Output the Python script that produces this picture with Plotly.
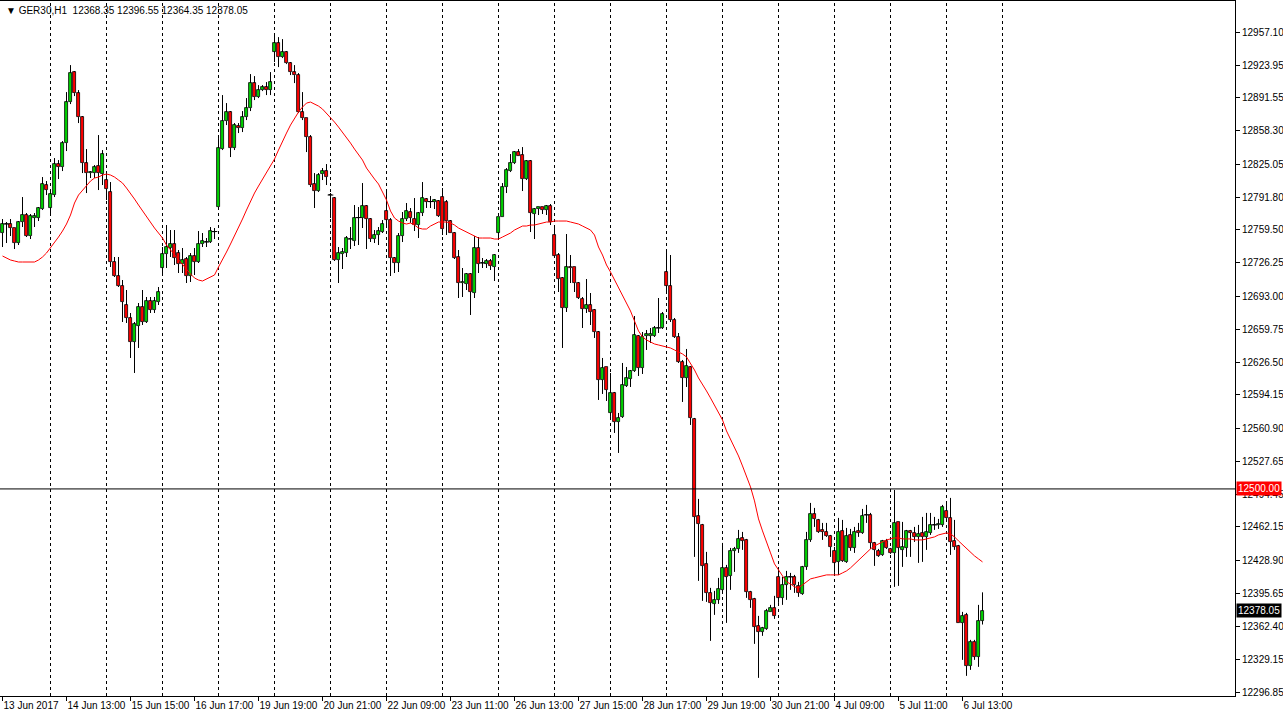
import plotly.graph_objects as go

opens = [12756,12765,12765,12761,12746,12767,12774,12753,12771,12771,12780,12804,12781,12794,12825,12822,12846,12887,12917,12896,
12872,12826,12816,12816,12823,12815,12809,12797,12727,12713,12703,12684,12671,12647,12663,12682,12667,12688,12679,12687,
12721,12735,12741,12745,12736,12725,12730,12713,12733,12727,12745,12747,12747,12757,12782,12840,12868,12877,12841,12863,
12861,12872,12881,12906,12892,12899,12902,12899,12937,12946,12932,12937,12926,12917,12914,12877,12871,12852,12805,12798,
12815,12818,12794,12791,12729,12735,12736,12750,12748,12771,12771,12783,12770,12750,12754,12757,12778,12769,12731,12726,
12753,12770,12777,12770,12764,12776,12790,12787,12787,12788,12792,12787,12768,12756,12732,12706,12705,12715,12696,12741,
12726,12725,12728,12722,12756,12772,12802,12818,12826,12837,12834,12810,12828,12775,12780,12782,12779,12783,12754,12734,
12711,12681,12722,12722,12706,12690,12680,12684,12679,12657,12609,12622,12576,12596,12567,12572,12603,12610,12618,12653,
12621,12653,12653,12653,12661,12661,12717,12703,12669,12652,12627,12611,12622,12570,12473,12464,12425,12396,12385,12389,
12399,12421,12413,12438,12440,12451,12449,12397,12390,12363,12357,12360,12377,12381,12412,12391,12404,12412,12412,12403,
12395,12422,12449,12475,12469,12459,12457,12453,12438,12427,12458,12427,12454,12441,12458,12456,12474,12474,12446,12438,
12434,12448,12440,12436,12467,12439,12441,12458,12456,12452,12456,12452,12456,12464,12464,12464,12478,12471,12448,12443,
12366,12374,12323,12347,12332,12368.35]
highs = [12770,12767,12770,12761,12768,12792,12776,12775,12776,12782,12812,12808,12799,12831,12829,12848,12897,12924,12918,12899,
12873,12840,12818,12824,12854,12839,12815,12807,12732,12732,12709,12699,12676,12667,12686,12699,12692,12692,12692,12702,
12742,12764,12759,12759,12739,12741,12732,12736,12741,12758,12756,12751,12762,12761,12851,12894,12886,12878,12866,12866,
12878,12891,12915,12913,12904,12904,12907,12917,12954,12952,12950,12938,12927,12924,12916,12897,12871,12854,12816,12816,
12821,12825,12796,12792,12742,12741,12753,12762,12784,12782,12806,12784,12771,12759,12762,12769,12799,12771,12732,12756,
12777,12786,12781,12791,12777,12807,12791,12793,12790,12789,12801,12789,12769,12757,12739,12721,12716,12716,12753,12752,
12731,12730,12730,12735,12772,12806,12821,12835,12838,12840,12842,12829,12829,12781,12782,12782,12784,12785,12761,12736,
12712,12755,12734,12722,12707,12692,12710,12696,12680,12658,12631,12622,12616,12597,12576,12626,12622,12619,12673,12654,
12657,12659,12661,12663,12691,12677,12737,12734,12671,12656,12629,12640,12623,12571,12490,12465,12437,12401,12398,12411,
12446,12424,12441,12442,12459,12457,12450,12398,12391,12373,12362,12380,12384,12393,12419,12412,12418,12416,12414,12407,
12423,12457,12486,12481,12470,12466,12466,12454,12442,12471,12469,12461,12460,12462,12466,12480,12484,12476,12447,12440,
12449,12450,12441,12499,12467,12467,12459,12459,12462,12464,12472,12476,12476,12472,12470,12484,12486,12491,12469,12444,
12377,12376,12349,12349,12384,12396.55]
lows = [12742,12746,12753,12740,12744,12762,12752,12750,12762,12768,12779,12794,12776,12792,12810,12818,12838,12885,12893,12866,
12816,12796,12811,12811,12799,12804,12789,12722,12712,12702,12667,12666,12631,12616,12641,12664,12666,12676,12676,12684,
12716,12721,12732,12724,12716,12716,12706,12707,12714,12726,12742,12742,12746,12750,12781,12839,12864,12832,12839,12856,
12857,12869,12878,12889,12891,12898,12894,12894,12927,12922,12931,12925,12914,12906,12876,12869,12837,12802,12781,12797,
12809,12804,12771,12728,12706,12720,12732,12740,12743,12744,12761,12740,12747,12746,12744,12756,12764,12713,12716,12717,
12747,12768,12766,12758,12751,12773,12781,12781,12780,12772,12754,12754,12756,12730,12691,12692,12699,12674,12691,12716,
12721,12721,12719,12708,12752,12772,12796,12817,12825,12833,12798,12809,12757,12750,12774,12775,12774,12764,12731,12697,
12641,12677,12706,12697,12690,12661,12676,12664,12651,12589,12595,12588,12572,12556,12536,12571,12602,12602,12617,12613,
12615,12639,12646,12652,12656,12660,12697,12667,12651,12626,12587,12602,12564,12432,12408,12388,12387,12348,12374,12385,
12397,12366,12399,12417,12436,12439,12391,12381,12345,12311,12353,12359,12377,12370,12386,12384,12389,12399,12396,12392,
12394,12419,12447,12462,12456,12449,12452,12432,12416,12414,12427,12426,12438,12436,12452,12455,12466,12440,12423,12432,
12433,12440,12435,12402,12403,12422,12432,12432,12447,12426,12427,12439,12454,12459,12460,12462,12470,12434,12439,12366,
12329,12313,12319,12329,12322,12364.35]
closes = [12765,12765,12761,12746,12767,12774,12753,12773,12773,12781,12805,12799,12795,12825,12822,12846,12887,12916,12896,12872,
12826,12816,12817,12822,12816,12835,12800,12727,12713,12703,12687,12671,12647,12665,12682,12667,12688,12679,12688,12697,
12735,12742,12745,12731,12725,12729,12713,12733,12727,12745,12748,12747,12758,12757.5,12841,12868,12877,12841,12864,12861,
12872,12881,12906,12892,12899,12902,12899,12907,12946,12932,12937,12926,12917,12914,12877,12871,12852,12804,12798,12814,
12818,12812,12794,12729,12736,12737,12751,12750,12771,12771.5,12783,12770,12750,12754,12758,12765,12769,12731,12726,12753,
12770,12778,12771,12764,12776,12791,12787,12787.5,12789,12773,12760,12768,12756,12731,12706,12707,12715,12697,12741,12725,
12726,12728,12723,12734,12772,12802,12819,12826,12837,12833,12810,12828,12776,12780,12782,12779,12783,12767,12733,12710,
12681,12722,12721,12706,12691,12680,12684,12677,12657,12609,12621,12599,12596,12567,12571,12604,12611,12618,12654,12621,
12652,12655,12655,12661,12661,12675,12703,12669,12652,12627,12611,12623,12571,12472,12465,12423,12396,12386,12389,12400,
12421,12412,12438,12440,12450,12448,12397,12389,12362,12357,12361,12378,12381,12373,12391,12404,12412,12412,12404,12396,
12422,12449,12475,12470,12457,12457,12453,12442,12426,12457,12428,12453,12441,12457,12456,12473,12474,12446,12439,12433,
12448,12441,12436,12466,12441,12442,12458,12456,12452,12455,12452,12457,12464,12464,12465,12482,12471,12447,12442,12366,
12373,12323,12347,12332,12368,12378.05]
ma = [12733,12731,12729,12728,12727,12727,12727,12727,12727,12729,12732,12736,12741,12746,12752,12758,12765,12774,12786,12794,
12799,12804,12808,12811,12812,12814,12815,12814,12812,12809,12806,12801,12796,12790,12784,12778,12772,12767,12761,12756,
12751,12744,12739,12734,12729,12725,12719,12715,12711,12709,12708,12710,12712,12714,12722,12729,12737,12745,12753,12761,
12770,12779,12788,12796,12803,12810,12817,12823,12830,12839,12848,12856,12864,12871,12877,12882,12886,12887,12885,12883,
12880,12876,12872,12867,12862,12857,12852,12846,12840,12834,12829,12821,12815,12810,12805,12797,12789,12778,12771,12768,
12766,12765,12766,12764,12761,12760,12760,12763,12765,12767,12767,12767,12766,12764,12761,12759,12757,12755,12753,12751,
12751,12751,12751,12750,12750,12752,12754,12756,12759,12761,12763,12763,12764,12764,12765,12766,12767,12767,12768,12768,
12768,12768,12767,12766,12765,12763,12761,12759,12754,12742,12734,12724,12717,12709,12701,12693,12685,12678,12668,12658,
12652,12649,12647,12645,12644,12643,12642,12641,12639,12637,12635,12632,12626,12619,12611,12605,12598,12591,12584,12577,
12569,12558,12550,12542,12533,12523,12513,12502,12488,12470,12458,12446,12436,12425,12419,12413,12407,12405,12402,12401,
12404,12407,12410,12411,12412,12413,12414,12414,12414,12414,12416,12418,12421,12425,12428,12432,12436,12440,12443,12445,
12447,12449,12450,12451,12451,12450,12450,12450,12449,12449,12449,12450,12451,12452,12454,12455,12456,12455,12452,12448,
12444,12440,12437,12433,12430,12427]

time_labels = ["13 Jun 2017","14 Jun 13:00","15 Jun 15:00","16 Jun 17:00","19 Jun 19:00","20 Jun 21:00",
               "22 Jun 09:00","23 Jun 11:00","26 Jun 13:00","27 Jun 15:00","28 Jun 17:00","29 Jun 19:00",
               "30 Jun 21:00","4 Jul 09:00","5 Jul 11:00","6 Jul 13:00"]
price_ticks = [12957.10,12923.95,12891.55,12858.30,12825.05,12791.80,12759.50,12726.25,12693.00,12659.75,
               12626.50,12594.15,12560.90,12527.65,12494.45,12462.15,12428.90,12395.65,12362.40,12329.15,12296.85]
level_line = 12500.00
symbol = "GER30,H1"

BULL = "#00D200"
BEAR = "#FF0000"

n = len(closes)
idx = list(range(n))
label_pos = [i * 16 for i in range(len(time_labels))]
day_seps = list(range(12, 260, 14))

body_top = [max(o, c) for o, c in zip(opens, closes)]
body_bot = [min(o, c) for o, c in zip(opens, closes)]
body_len = [t - b for t, b in zip(body_top, body_bot)]
body_col = [BULL if c >= o else BEAR for o, c in zip(opens, closes)]

# wicks: upper (high -> body top) and lower (body bottom -> low), so they never cross the body
wx, wy = [], []
for i in idx:
    wx += [i, i, None, i, i, None]
    wy += [highs[i], body_top[i], None, body_bot[i], lows[i], None]

doji_x = [i for i in idx if body_len[i] < 1.0]
doji_y = [closes[i] for i in doji_x]

fig = go.Figure()
fig.add_trace(go.Bar(x=idx, y=body_len, base=body_bot, width=0.75,
                     marker=dict(color=body_col, line=dict(color="black", width=0.8)),
                     showlegend=False, hoverinfo="skip"))
fig.add_trace(go.Scatter(x=wx, y=wy, mode="lines", line=dict(color="black", width=1),
                         showlegend=False, hoverinfo="skip"))
fig.add_trace(go.Scatter(x=doji_x, y=doji_y, mode="markers",
                         marker=dict(symbol="line-ew", size=4, line=dict(color="black", width=1)),
                         showlegend=False, hoverinfo="skip"))
fig.add_trace(go.Scatter(x=idx, y=ma, mode="lines", line=dict(color="#FF0000", width=1),
                         showlegend=False, hoverinfo="skip"))

for d in day_seps:
    fig.add_shape(type="line", xref="x", yref="paper", x0=d, x1=d, y0=0, y1=1,
                  line=dict(color="black", width=1, dash="3px,3px"), layer="below")
fig.add_shape(type="line", xref="paper", yref="y", x0=0, x1=1, y0=level_line, y1=level_line,
              line=dict(color="black", width=1))

font = dict(family="Liberation Sans, Arial, sans-serif", size=10, color="black")

fig.add_annotation(xref="paper", yref="y", x=1, y=level_line, xanchor="left", yanchor="middle",
                   text="%.2f" % level_line, showarrow=False, bgcolor="#FF0000",
                   font=dict(family=font["family"], size=10, color="white"), borderpad=1, xshift=1)
fig.add_annotation(xref="paper", yref="y", x=1, y=closes[-1], xanchor="left", yanchor="middle",
                   text="%.2f" % closes[-1], showarrow=False, bgcolor="black",
                   font=dict(family=font["family"], size=10, color="white"), borderpad=1, xshift=1)
fig.add_annotation(xref="paper", yref="paper", x=0, y=1, xanchor="left", yanchor="top",
                   text="\u25BC %s  %.2f %.2f %.2f %.2f" % (symbol, opens[-1], highs[-1], lows[-1], closes[-1]),
                   showarrow=False, font=font, xshift=4, yshift=-2)

fig.update_layout(
    width=1283, height=718, margin=dict(l=0, r=48, t=1, b=22),
    paper_bgcolor="white", plot_bgcolor="white",
    font=font, barmode="overlay", bargap=0,
    xaxis=dict(range=[-0.625, 308.125], showgrid=False, zeroline=False, automargin=False,
               tickmode="array", tickvals=label_pos, ticktext=time_labels, tickangle=0,
               ticks="outside", ticklen=4, tickcolor="black", ticklabelposition="outside right",
               showline=True, linecolor="black", linewidth=1, mirror=True, tickfont=font),
    yaxis=dict(range=[12292.85, 12988.11], side="right", showgrid=False, zeroline=False, automargin=False,
               tickmode="array", tickvals=price_ticks, ticktext=["%.2f" % v for v in price_ticks],
               ticks="outside", ticklen=4, tickcolor="black",
               showline=True, linecolor="black", linewidth=1, mirror=True, tickfont=font),
)
fig.write_html("out.html", config={"displayModeBar": False},
               post_script="document.body.style.margin='0px';")
